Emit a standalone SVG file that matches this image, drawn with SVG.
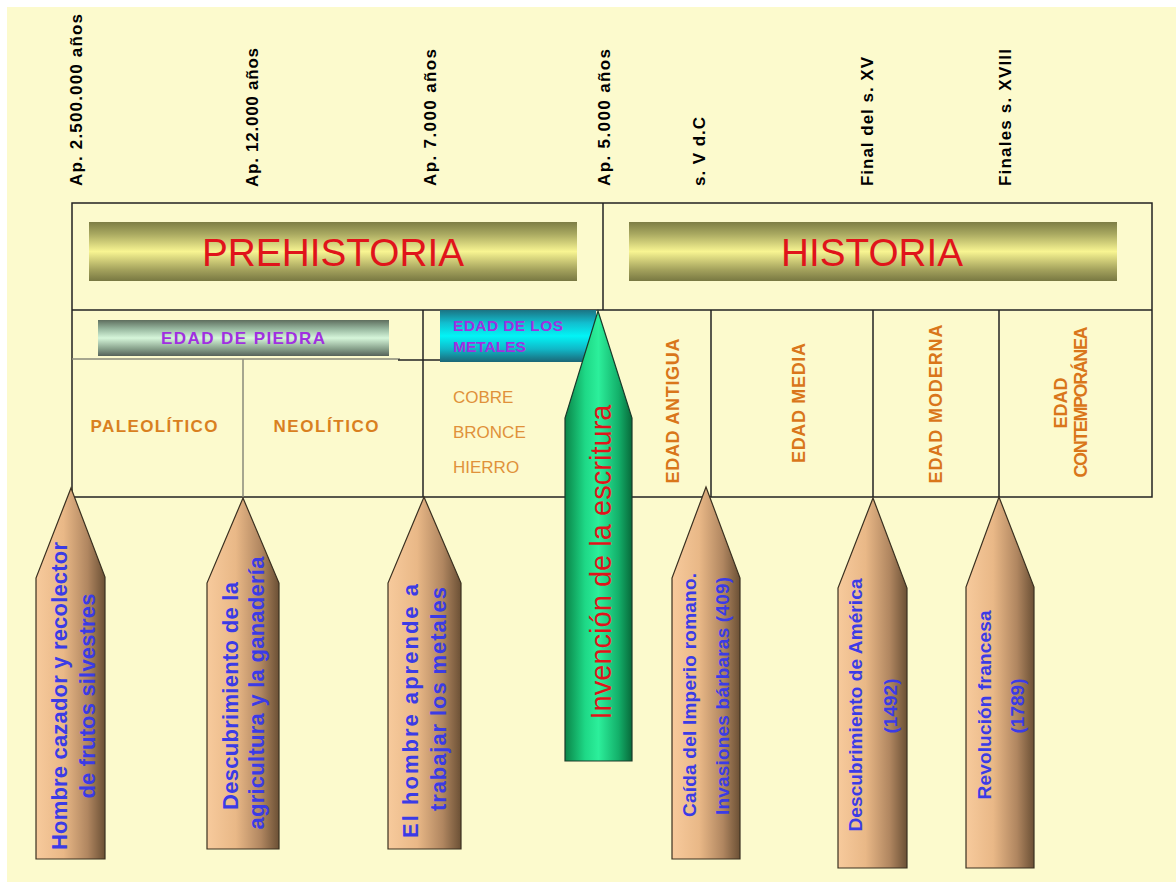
<svg xmlns="http://www.w3.org/2000/svg" width="1176" height="882" viewBox="0 0 1176 882">
<style>
.bg{fill:#FCFACD}
.ln{stroke:#222;stroke-width:1.5;fill:none}
.lg{stroke:#8a8a7a;stroke-width:1.5;fill:none}
.date{font-family:"Liberation Sans",Arial,sans-serif;font-weight:bold;font-size:17px;fill:#000}
.big{font-family:"Liberation Sans",Arial,sans-serif;font-size:39px;fill:#E0141B;text-anchor:middle}
.edad{font-family:"Liberation Sans",Arial,sans-serif;font-weight:bold;fill:#A030E0}
.per{font-family:"Liberation Sans",Arial,sans-serif;font-weight:bold;font-size:17px;fill:#D9801F;text-anchor:middle}
.met{font-family:"Liberation Sans",Arial,sans-serif;font-size:17px;fill:#E0913A}
.age{font-family:"Liberation Sans",Arial,sans-serif;font-weight:bold;font-size:18px;fill:#D9761A;text-anchor:middle}
.pen{fill:url(#tan);stroke:#3a3020;stroke-width:1.2}
.pt{font-family:"Liberation Sans",Arial,sans-serif;font-weight:bold;fill:#3B3BE6;text-anchor:middle}
</style>
<defs>
<linearGradient id="tan" x1="0" y1="0" x2="1" y2="0">
<stop offset="0" stop-color="#F7CA9C"/><stop offset="0.4" stop-color="#E9B887"/><stop offset="0.75" stop-color="#B08660"/><stop offset="1" stop-color="#6B5035"/>
</linearGradient>
<linearGradient id="grn" x1="0" y1="0" x2="1" y2="0">
<stop offset="0" stop-color="#0A8548"/><stop offset="0.3" stop-color="#1ED886"/><stop offset="0.5" stop-color="#2CEF9B"/><stop offset="0.8" stop-color="#13B06A"/><stop offset="1" stop-color="#086A3A"/>
</linearGradient>
<linearGradient id="yel" x1="0" y1="0" x2="0" y2="1">
<stop offset="0" stop-color="#7D7D45"/><stop offset="0.2" stop-color="#A8A860"/><stop offset="0.5" stop-color="#F8F592"/><stop offset="0.8" stop-color="#A6A45E"/><stop offset="1" stop-color="#787842"/>
</linearGradient>
<linearGradient id="stone" x1="0" y1="0" x2="0" y2="1">
<stop offset="0" stop-color="#5E6E5E"/><stop offset="0.25" stop-color="#98B8A0"/><stop offset="0.5" stop-color="#D6F6DA"/><stop offset="0.78" stop-color="#8CA690"/><stop offset="1" stop-color="#56625A"/>
</linearGradient>
<linearGradient id="cyan" x1="0" y1="0" x2="0" y2="1">
<stop offset="0" stop-color="#1B7484"/><stop offset="0.25" stop-color="#12BECF"/><stop offset="0.5" stop-color="#02F4F6"/><stop offset="0.75" stop-color="#10B8C8"/><stop offset="1" stop-color="#1B6676"/>
</linearGradient>
</defs>
<rect x="0" y="0" width="1176" height="882" fill="#FFFFFF"/>
<rect class="bg" x="7" y="7" width="1169" height="875"/>

<g id="dates">
<text class="date" transform="translate(82,186) rotate(-90)" textLength="172" lengthAdjust="spacing">Ap. 2.500.000 años</text>
<text class="date" transform="translate(258,187) rotate(-90)" textLength="139" lengthAdjust="spacing">Ap. 12.000 años</text>
<text class="date" transform="translate(436,186) rotate(-90)" textLength="137" lengthAdjust="spacing">Ap. 7.000 años</text>
<text class="date" transform="translate(610,186) rotate(-90)" textLength="137" lengthAdjust="spacing">Ap. 5.000 años</text>
<text class="date" transform="translate(705,186) rotate(-90)" textLength="69" lengthAdjust="spacing">s. V d.C</text>
<text class="date" transform="translate(873,186) rotate(-90)" textLength="129" lengthAdjust="spacing">Final del s. XV</text>
<text class="date" transform="translate(1011,186) rotate(-90)" textLength="137" lengthAdjust="spacing">Finales s. XVIII</text>
</g>

<g id="table">
<rect class="ln" x="72" y="203" width="1080" height="294"/>
<line class="ln" x1="72" y1="310" x2="1152" y2="310"/>
<line class="ln" x1="603" y1="203" x2="603" y2="310"/>
<line class="lg" x1="72" y1="359" x2="400" y2="359"/>
<line class="ln" x1="398" y1="360" x2="440" y2="360"/>
<line class="lg" x1="243" y1="359" x2="243" y2="497"/>
<line class="ln" x1="423" y1="310" x2="423" y2="497"/>
<line class="ln" x1="711" y1="310" x2="711" y2="497"/>
<line class="ln" x1="873" y1="310" x2="873" y2="497"/>
<line class="ln" x1="999" y1="310" x2="999" y2="497"/>
</g>

<g id="prehistoria">
<rect x="89" y="222" width="488" height="59" fill="url(#yel)"/>
<text class="big" x="333" y="266" textLength="262" lengthAdjust="spacingAndGlyphs">PREHISTORIA</text>
</g>
<g id="historia">
<rect x="629" y="222" width="488" height="59" fill="url(#yel)"/>
<text class="big" x="872" y="266" textLength="182" lengthAdjust="spacingAndGlyphs">HISTORIA</text>
</g>

<g id="edad-piedra">
<rect x="98" y="320" width="291" height="36" fill="url(#stone)"/>
<text class="edad" x="243" y="344" font-size="17" text-anchor="middle" textLength="164" lengthAdjust="spacing">EDAD DE PIEDRA</text>
</g>
<g id="edad-metales">
<rect x="440" y="310" width="156" height="52" fill="url(#cyan)"/>
<text class="edad" x="453" y="331" font-size="15.5" textLength="110" lengthAdjust="spacing">EDAD DE LOS</text>
<text class="edad" x="453" y="352" font-size="15.5">METALES</text>
</g>

<g id="paleolitico"><text class="per" x="154" y="432" textLength="127" lengthAdjust="spacing">PALEOLÍTICO</text></g>
<g id="neolitico"><text class="per" x="326" y="432" textLength="105" lengthAdjust="spacing">NEOLÍTICO</text></g>
<g id="metales">
<text class="met" x="453" y="403">COBRE</text>
<text class="met" x="453" y="438">BRONCE</text>
<text class="met" x="453" y="473">HIERRO</text>
</g>

<g id="edad-antigua"><text class="age" transform="translate(679,411) rotate(-90)" textLength="145" lengthAdjust="spacing">EDAD ANTIGUA</text></g>
<g id="edad-media"><text class="age" transform="translate(805,403) rotate(-90)" textLength="120" lengthAdjust="spacing">EDAD MEDIA</text></g>
<g id="edad-moderna"><text class="age" transform="translate(942,404) rotate(-90)" textLength="159" lengthAdjust="spacing">EDAD MODERNA</text></g>
<g id="edad-contemporanea">
<text class="age" font-size="16" transform="translate(1067,403) rotate(-90)">EDAD</text>
<text class="age" font-size="16" transform="translate(1087,402) rotate(-90)" textLength="151" lengthAdjust="spacing">CONTEMPORÁNEA</text>
</g>

<g id="pencil-cazador">
<path class="pen" d="M71,488 L105,577 L105,859 L36,859 L36,578 Z"/>
<text class="pt" font-size="22" transform="translate(67,696) rotate(-90)" textLength="308" lengthAdjust="spacing">Hombre cazador y recolector</text>
<text class="pt" font-size="22" transform="translate(95,696) rotate(-90)" textLength="205" lengthAdjust="spacing">de frutos silvestres</text>
</g>
<g id="pencil-agricultura">
<path class="pen" d="M243,498 L279,583 L279,849 L207,849 L207,583 Z"/>
<text class="pt" font-size="22" transform="translate(238,696) rotate(-90)" textLength="228" lengthAdjust="spacing">Descubrimiento de la</text>
<text class="pt" font-size="22" transform="translate(264,693) rotate(-90)" textLength="273" lengthAdjust="spacing">agricultura y la ganadería</text>
</g>
<g id="pencil-metales">
<path class="pen" d="M424,497 L461,583 L461,849 L388,849 L388,583 Z"/>
<text class="pt" font-size="22" transform="translate(418,711) rotate(-90)" textLength="254" lengthAdjust="spacing">El hombre aprende a</text>
<text class="pt" font-size="22" transform="translate(446,699) rotate(-90)" textLength="224" lengthAdjust="spacing">trabajar los metales</text>
</g>
<g id="pencil-escritura">
<path d="M598,311 L632,418 L632,761 L565,761 L565,418 Z" fill="url(#grn)" stroke="#1a3a2a" stroke-width="1.2"/>
<text font-family="'Liberation Sans',Arial,sans-serif" font-size="29" fill="#E0141B" text-anchor="middle" transform="translate(611,562) rotate(-90)" textLength="315" lengthAdjust="spacing">Invención de la escritura</text>
</g>
<g id="pencil-roma">
<path class="pen" d="M706,487 L740,578 L740,859 L672,859 L672,578 Z"/>
<text class="pt" font-size="19" transform="translate(696,695) rotate(-90)" textLength="244" lengthAdjust="spacing">Caída del Imperio romano.</text>
<text class="pt" font-size="19" transform="translate(729,696) rotate(-90)" textLength="238" lengthAdjust="spacing">Invasiones bárbaras (409)</text>
</g>
<g id="pencil-america">
<path class="pen" d="M873,498 L907,588 L907,868 L838,868 L838,588 Z"/>
<text class="pt" font-size="19" transform="translate(862,705) rotate(-90)" textLength="253" lengthAdjust="spacing">Descubrimiento de América</text>
<text class="pt" font-size="19" transform="translate(897,706) rotate(-90)" textLength="55" lengthAdjust="spacing">(1492)</text>
</g>
<g id="pencil-revolucion">
<path class="pen" d="M999,497 L1034,587 L1034,868 L966,868 L966,587 Z"/>
<text class="pt" font-size="19" transform="translate(991,705) rotate(-90)" textLength="189" lengthAdjust="spacing">Revolución francesa</text>
<text class="pt" font-size="19" transform="translate(1024,706) rotate(-90)" textLength="55" lengthAdjust="spacing">(1789)</text>
</g>
</svg>
